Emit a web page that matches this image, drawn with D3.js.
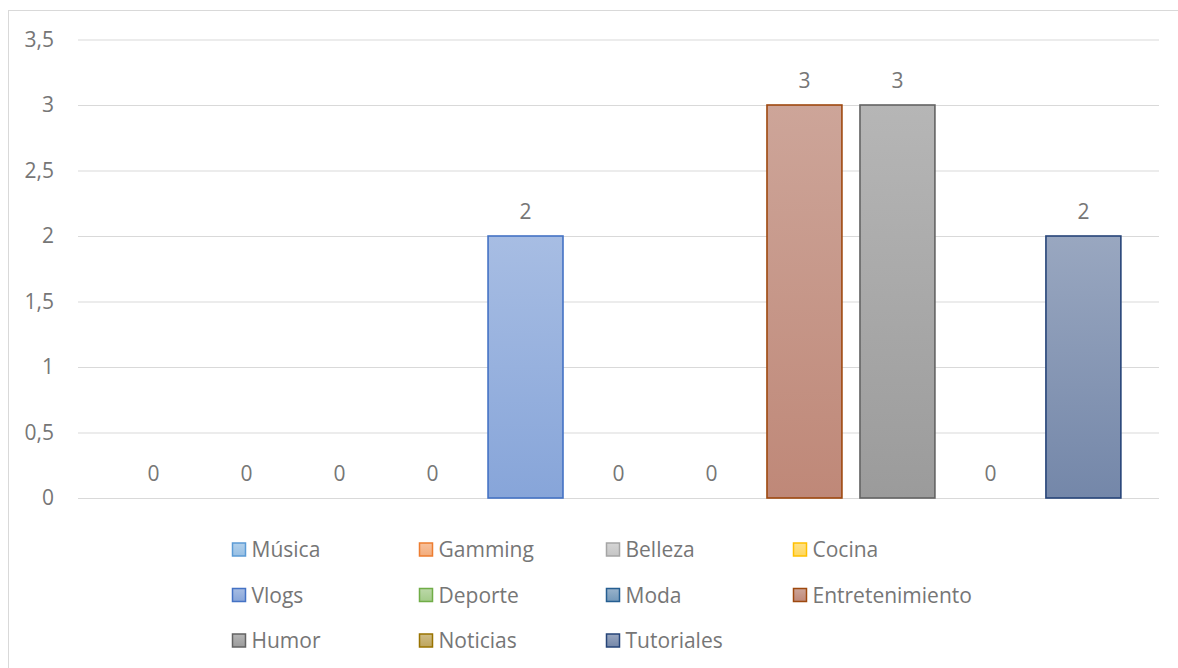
<!DOCTYPE html>
<html>
<head>
<meta charset="utf-8">
<script src="https://cdn.jsdelivr.net/npm/d3@7"></script>
<style>
  html, body { margin: 0; padding: 0; background: #fff; }
  svg { display: block; }
  text { font-family: "Open Sans", "DejaVu Sans", sans-serif; fill: #767676; }
</style>
</head>
<body>
<svg id="chart" width="1178" height="668"></svg>
<script>
// ---- data ----
const categories = ["Música", "Gamming", "Belleza", "Cocina", "Vlogs", "Deporte", "Moda",
                    "Entretenimiento", "Humor", "Noticias", "Tutoriales"];
const values = [0, 0, 0, 0, 2, 0, 0, 3, 3, 0, 2];
const seriesColors = ["#5B9BD5", "#ED7D31", "#A5A5A5", "#FFC000", "#4472C4", "#70AD47",
                      "#255E91", "#9E480E", "#636363", "#997300", "#264478"];
const yTicks = [0, 0.5, 1, 1.5, 2, 2.5, 3, 3.5];
const legendColumns = 4;

// gradient fills (top / bottom) – derived from series colours, with one read-off override
const fillTop = seriesColors.map(c => d3.interpolateRgb(c, "#fff")(0.53));
const fillBottom = seriesColors.map(c => d3.interpolateRgb(c, "#fff")(0.36));
fillTop[7] = "#CDA599";
fillBottom[7] = "#BF8878";

// ---- layout ----
const svg = d3.select("#chart");
const plot = { left: 78, right: 1159, top: 39.5, bottom: 498 };

const x = d3.scaleBand()
  .domain(categories)
  .range([plot.left, plot.right])
  .paddingInner(0.194)
  .paddingOuter(0.41);

const y = d3.scaleLinear().domain([0, 3.5]).range([plot.bottom, plot.top]);

const fmt = v => String(v).replace(".", ",");

// chart area border
svg.append("rect")
  .attr("x", 8.5).attr("y", 10.5)
  .attr("width", 1200).attr("height", 700)
  .attr("fill", "#fff").attr("stroke", "#D9D9D9").attr("stroke-width", 1);

// gradients
const defs = svg.append("defs");
categories.forEach((c, i) => {
  const g = defs.append("linearGradient")
    .attr("id", "grad" + i)
    .attr("x1", 0).attr("y1", 0).attr("x2", 0).attr("y2", 1);
  g.append("stop").attr("offset", "0%").attr("stop-color", fillTop[i]);
  g.append("stop").attr("offset", "100%").attr("stop-color", fillBottom[i]);
});

// y axis (gridlines + labels)
const yAxis = d3.axisLeft(y)
  .tickValues(yTicks)
  .tickFormat(fmt)
  .tickSize(-(plot.right - plot.left))
  .tickPadding(24);

const yg = svg.append("g")
  .attr("transform", `translate(${plot.left},0)`)
  .call(yAxis);
yg.select(".domain").remove();
yg.selectAll(".tick line").attr("stroke", "#D9D9D9").attr("stroke-width", 1);
yg.selectAll(".tick text")
  .attr("fill", "#767676")
  .style("font-family", "'Open Sans', sans-serif")
  .style("font-size", "21px");

// bars
svg.append("g").selectAll("rect")
  .data(categories)
  .join("rect")
  .filter((c, i) => values[i] > 0)
  .attr("x", c => x(c))
  .attr("y", c => y(values[categories.indexOf(c)]))
  .attr("width", x.bandwidth())
  .attr("height", c => y(0) - y(values[categories.indexOf(c)]))
  .attr("fill", c => `url(#grad${categories.indexOf(c)})`)
  .attr("stroke", c => seriesColors[categories.indexOf(c)])
  .attr("stroke-width", 1.6);

// data labels
svg.append("g").selectAll("text")
  .data(categories)
  .join("text")
  .attr("x", c => x(c) + x.bandwidth() / 2)
  .attr("y", (c, i) => y(values[i]) - 17.5)
  .attr("text-anchor", "middle")
  .style("font-size", "21px")
  .text((c, i) => fmt(values[i]));

// legend
const legendX0 = 232, legendColStep = 187, legendY0 = 549.5, legendRowStep = 45.5;
const lg = svg.append("g").selectAll("g")
  .data(categories)
  .join("g")
  .attr("transform", (c, i) =>
    `translate(${legendX0 + (i % legendColumns) * legendColStep},${legendY0 + Math.floor(i / legendColumns) * legendRowStep})`);
lg.append("rect")
  .attr("x", 0.5).attr("y", -6.5)
  .attr("width", 13).attr("height", 13)
  .attr("fill", (c, i) => `url(#grad${i})`)
  .attr("stroke", (c, i) => seriesColors[i])
  .attr("stroke-width", 1.5);
lg.append("text")
  .attr("x", 19.5).attr("y", 7.5)
  .style("font-size", "21px")
  .text(c => c);
</script>
</body>
</html>
